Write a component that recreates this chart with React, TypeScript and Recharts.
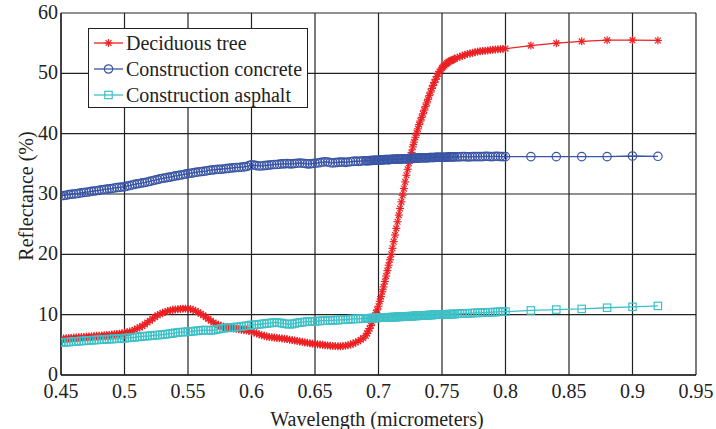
import React from "react";
import { LineChart, Line, XAxis, YAxis, CartesianGrid } from "recharts";

// Wavelength samples (micrometers)
const wavelengths = [
  0.450, 0.452, 0.454, 0.456, 0.458, 0.460, 0.462, 0.464, 0.466, 0.468,
  0.470, 0.472, 0.474, 0.476, 0.478, 0.480, 0.482, 0.484, 0.486, 0.488,
  0.490, 0.492, 0.494, 0.496, 0.498, 0.500, 0.502, 0.504, 0.506, 0.508,
  0.510, 0.512, 0.514, 0.516, 0.518, 0.520, 0.522, 0.524, 0.526, 0.528,
  0.530, 0.532, 0.534, 0.536, 0.538, 0.540, 0.542, 0.544, 0.546, 0.548,
  0.550, 0.552, 0.554, 0.556, 0.558, 0.560, 0.562, 0.564, 0.566, 0.568,
  0.570, 0.572, 0.574, 0.576, 0.578, 0.580, 0.582, 0.584, 0.586, 0.588,
  0.590, 0.592, 0.594, 0.596, 0.598, 0.600, 0.602, 0.604, 0.606, 0.608,
  0.610, 0.612, 0.614, 0.616, 0.618, 0.620, 0.622, 0.624, 0.626, 0.628,
  0.630, 0.632, 0.634, 0.636, 0.638, 0.640, 0.642, 0.644, 0.646, 0.648,
  0.650, 0.652, 0.654, 0.656, 0.658, 0.660, 0.662, 0.664, 0.666, 0.668,
  0.670, 0.672, 0.674, 0.676, 0.678, 0.680, 0.682, 0.684, 0.686, 0.688,
  0.690, 0.691, 0.692, 0.693, 0.694, 0.695, 0.696, 0.697, 0.698, 0.699,
  0.700, 0.701, 0.702, 0.703, 0.704, 0.705, 0.706, 0.707, 0.708, 0.709,
  0.710, 0.711, 0.712, 0.713, 0.714, 0.715, 0.716, 0.717, 0.718, 0.719,
  0.720, 0.721, 0.722, 0.723, 0.724, 0.725, 0.726, 0.727, 0.728, 0.729,
  0.730, 0.731, 0.732, 0.733, 0.734, 0.735, 0.736, 0.737, 0.738, 0.739,
  0.740, 0.741, 0.742, 0.743, 0.744, 0.745, 0.746, 0.747, 0.748, 0.749,
  0.750, 0.751, 0.752, 0.753, 0.754, 0.755, 0.756, 0.757, 0.758, 0.759,
  0.760,
  0.762, 0.764, 0.766, 0.768, 0.770, 0.772, 0.774, 0.776, 0.778, 0.780,
  0.782, 0.784, 0.786, 0.788, 0.790, 0.792, 0.794, 0.796, 0.798, 0.800,
  0.82, 0.84, 0.86, 0.88, 0.90, 0.92,
];

// Reflectance (%) of deciduous tree
const deciduousTree = [
  6.0, 6.05, 6.1, 6.1, 6.15, 6.2, 6.2, 6.25, 6.3, 6.3,
  6.35, 6.4, 6.4, 6.45, 6.5, 6.5, 6.55, 6.6, 6.6, 6.65,
  6.7, 6.75, 6.8, 6.85, 6.9, 7.0, 7.1, 7.2, 7.3, 7.5,
  7.7, 7.9, 8.1, 8.4, 8.7, 9.0, 9.3, 9.6, 9.9, 10.1,
  10.3, 10.45, 10.6, 10.7, 10.8, 10.85, 10.9, 10.95, 11.0, 11.0,
  11.0, 10.9, 10.8, 10.6, 10.4, 10.15, 9.9, 9.6, 9.3, 9.0,
  8.7, 8.5, 8.3, 8.15, 8.0, 7.9, 7.8, 7.75, 7.7, 7.65,
  7.6, 7.5, 7.45, 7.4, 7.3, 7.2, 7.05, 6.9, 6.75, 6.6,
  6.5, 6.4, 6.3, 6.25, 6.2, 6.15, 6.1, 6.05, 6.0, 5.95,
  5.85, 5.8, 5.7, 5.65, 5.55, 5.5, 5.4, 5.35, 5.25, 5.2,
  5.15, 5.1, 5.05, 5.0, 4.95, 4.9, 4.85, 4.8, 4.8, 4.75,
  4.75, 4.8, 4.85, 4.95, 5.05, 5.2, 5.4, 5.6, 5.85, 6.1,
  6.5, 6.9, 7.3, 7.7, 8.2, 8.7, 9.2, 9.7, 10.3, 10.8,
  11.4, 12.2, 13.0, 13.8, 14.6, 15.5, 16.4, 17.3, 18.2, 19.1,
  20.0, 21.0, 22.1, 23.2, 24.3, 25.4, 26.5, 27.6, 28.7, 29.8,
  30.9, 32.0, 33.1, 34.1, 35.1, 36.0, 36.9, 37.8, 38.6, 39.4,
  40.1, 40.8, 41.5, 42.1, 42.7, 43.3, 43.9, 44.5, 45.1, 45.7,
  46.3, 46.9, 47.5, 48.0, 48.5, 49.0, 49.5, 49.9, 50.3, 50.6,
  50.9, 51.1, 51.3, 51.5, 51.7, 51.85, 52.0, 52.1, 52.2, 52.3,
  52.4,
  52.6, 52.75, 52.9, 53.05, 53.2, 53.3, 53.4, 53.5, 53.6, 53.65,
  53.7, 53.75, 53.8, 53.85, 53.9, 53.95, 54.0, 54.0, 54.05, 54.1,
  54.6, 55.0, 55.3, 55.5, 55.5, 55.45,
];

// Reflectance (%) of construction concrete
const constructionConcrete = [
  29.7, 29.75, 29.8, 29.9, 29.95, 30.0, 30.05, 30.1, 30.2, 30.25,
  30.3, 30.35, 30.45, 30.5, 30.55, 30.6, 30.7, 30.75, 30.8, 30.85,
  30.9, 31.0, 31.05, 31.1, 31.15, 31.2, 31.3, 31.4, 31.5, 31.6,
  31.7, 31.75, 31.85, 31.9, 32.0, 32.1, 32.2, 32.3, 32.4, 32.5,
  32.6, 32.65, 32.75, 32.8, 32.9, 33.0, 33.05, 33.15, 33.2, 33.3,
  33.4, 33.45, 33.5, 33.6, 33.65, 33.7, 33.75, 33.8, 33.9, 33.95,
  34.0, 34.05, 34.1, 34.1, 34.15, 34.2, 34.25, 34.3, 34.35, 34.4,
  34.4, 34.45, 34.5, 34.55, 34.7, 34.85, 34.8, 34.7, 34.65, 34.65,
  34.7, 34.75, 34.8, 34.85, 34.9, 34.9, 34.95, 35.0, 35.0, 35.05,
  35.0, 35.0, 35.05, 35.1, 35.15, 35.1, 35.05, 35.0, 35.0, 35.05,
  35.1, 35.15, 35.2, 35.3, 35.35, 35.3, 35.2, 35.15, 35.2, 35.25,
  35.3, 35.3, 35.25, 35.3, 35.35, 35.4, 35.45, 35.4, 35.45, 35.5,
  35.5, 35.5, 35.5, 35.55, 35.55, 35.55, 35.6, 35.6, 35.6, 35.6,
  35.6, 35.6, 35.65, 35.65, 35.65, 35.7, 35.7, 35.7, 35.7, 35.7,
  35.75, 35.75, 35.75, 35.75, 35.8, 35.8, 35.8, 35.8, 35.8, 35.8,
  35.85, 35.85, 35.85, 35.85, 35.9, 35.9, 35.9, 35.9, 35.9, 35.95,
  35.95, 35.95, 35.95, 36.0, 36.0, 36.0, 36.0, 36.0, 36.0, 36.0,
  36.05, 36.05, 36.05, 36.05, 36.05, 36.1, 36.1, 36.1, 36.1, 36.1,
  36.1, 36.1, 36.1, 36.1, 36.1, 36.15, 36.15, 36.15, 36.15, 36.15,
  36.15,
  36.15, 36.15, 36.2, 36.2, 36.15, 36.15, 36.2, 36.2, 36.2, 36.2,
  36.2, 36.25, 36.25, 36.2, 36.2, 36.25, 36.25, 36.2, 36.2, 36.2,
  36.2, 36.2, 36.2, 36.2, 36.3, 36.25,
];

// Reflectance (%) of construction asphalt
const constructionAsphalt = [
  5.4, 5.4, 5.45, 5.45, 5.5, 5.55, 5.55, 5.6, 5.65, 5.65,
  5.7, 5.75, 5.75, 5.8, 5.8, 5.85, 5.85, 5.9, 5.9, 5.95,
  5.95, 6.0, 6.0, 6.05, 6.05, 6.1, 6.15, 6.2, 6.2, 6.25,
  6.3, 6.35, 6.4, 6.45, 6.45, 6.5, 6.55, 6.6, 6.6, 6.65,
  6.7, 6.75, 6.8, 6.85, 6.9, 7.0, 7.05, 7.1, 7.1, 7.15,
  7.2, 7.2, 7.25, 7.3, 7.35, 7.4, 7.45, 7.45, 7.4, 7.4,
  7.45, 7.5, 7.6, 7.7, 7.75, 7.8, 7.85, 7.85, 7.9, 7.95,
  8.0, 8.05, 8.1, 8.15, 8.2, 8.3, 8.3, 8.35, 8.4, 8.45,
  8.5, 8.55, 8.6, 8.65, 8.7, 8.7, 8.65, 8.6, 8.5, 8.45,
  8.4, 8.45, 8.55, 8.65, 8.7, 8.75, 8.8, 8.85, 8.85, 8.9,
  8.9, 8.95, 8.95, 9.0, 9.0, 9.0, 9.05, 9.05, 9.1, 9.1,
  9.15, 9.15, 9.2, 9.2, 9.25, 9.3, 9.3, 9.3, 9.35, 9.35,
  9.4, 9.4, 9.4, 9.4, 9.4, 9.45, 9.45, 9.45, 9.45, 9.45,
  9.5, 9.5, 9.5, 9.5, 9.5, 9.55, 9.55, 9.55, 9.55, 9.55,
  9.6, 9.6, 9.6, 9.6, 9.6, 9.65, 9.65, 9.65, 9.65, 9.65,
  9.7, 9.7, 9.7, 9.7, 9.75, 9.75, 9.75, 9.75, 9.8, 9.8,
  9.8, 9.8, 9.85, 9.85, 9.85, 9.85, 9.9, 9.9, 9.9, 9.9,
  9.95, 9.95, 9.95, 9.95, 10.0, 10.0, 10.0, 10.0, 10.0, 10.0,
  10.0, 10.05, 10.05, 10.05, 10.05, 10.05, 10.1, 10.1, 10.1, 10.1,
  10.1,
  10.15, 10.15, 10.2, 10.2, 10.2, 10.25, 10.25, 10.3, 10.3, 10.3,
  10.35, 10.35, 10.4, 10.4, 10.4, 10.45, 10.45, 10.5, 10.5, 10.5,
  10.7, 10.85, 10.95, 11.15, 11.3, 11.45,
];

const xTicks = [0.45, 0.5, 0.55, 0.6, 0.65, 0.7, 0.75, 0.8, 0.85, 0.9, 0.95];
const yTicks = [0, 10, 20, 30, 40, 50, 60];

const seriesNames = ["Deciduous tree", "Construction concrete", "Construction asphalt"];
const xLabel = "Wavelength (micrometers)";
const yLabel = "Reflectance (%)";

const RED = "#ed2024";
const BLUE = "#3a55a5";
const CYAN = "#3ec0c6";
const INK = "#222";

const data = wavelengths.map((wl, i) => ({
  wl,
  tree: deciduousTree[i],
  concrete: constructionConcrete[i],
  asphalt: constructionAsphalt[i],
}));

const FONT = "Liberation Serif, Tinos, DejaVu Serif, serif";

function StarMark({ cx, cy, color }: { cx: number; cy: number; color: string }) {
  const r = 4;
  const d = 2.9;
  return (
    <g stroke={color} strokeWidth={1.2} fill="none">
      <line x1={cx - r} y1={cy} x2={cx + r} y2={cy} />
      <line x1={cx} y1={cy - r} x2={cx} y2={cy + r} />
      <line x1={cx - d} y1={cy - d} x2={cx + d} y2={cy + d} />
      <line x1={cx - d} y1={cy + d} x2={cx + d} y2={cy - d} />
    </g>
  );
}

function CircleMark({ cx, cy, color }: { cx: number; cy: number; color: string }) {
  return <circle cx={cx} cy={cy} r={4.2} stroke={color} strokeWidth={1.2} fill="none" />;
}

function SquareMark({ cx, cy, color }: { cx: number; cy: number; color: string }) {
  return (
    <rect x={cx - 3.7} y={cy - 3.7} width={7.4} height={7.4} stroke={color} strokeWidth={1.2} fill="none" />
  );
}

const markers = [
  (p: any) => <StarMark cx={p.cx} cy={p.cy} color={RED} />,
  (p: any) => <CircleMark cx={p.cx} cy={p.cy} color={BLUE} />,
  (p: any) => <SquareMark cx={p.cx} cy={p.cy} color={CYAN} />,
];
const colors = [RED, BLUE, CYAN];

function LegendBox() {
  return (
    <div
      style={{
        position: "absolute",
        left: 88,
        top: 28,
        width: 220,
        height: 80,
        border: `1.3px solid ${INK}`,
        background: "#fff",
        padding: "1px 0 0 4px",
        fontFamily: FONT,
        fontSize: 20,
        lineHeight: "26px",
        color: INK,
        boxSizing: "border-box",
      }}
    >
      {seriesNames.map((name, i) => (
        <div key={name} style={{ display: "flex", alignItems: "center", whiteSpace: "nowrap", height: 26 }}>
          <svg width={31} height={14} style={{ marginRight: 2, flex: "none" }}>
            <line x1={1} y1={7} x2={30} y2={7} stroke={colors[i]} strokeWidth={1.3} />
            {markers[i]({ cx: 15.5, cy: 7 })}
          </svg>
          <span style={{ fontFamily: FONT }}>{name}</span>
        </div>
      ))}
    </div>
  );
}

function makeDot(idx: number) {
  return (props: any) => {
    const { cx, cy, index } = props;
    if (cx == null || cy == null) return <g key={`d${idx}-${index}`} />;
    return <g key={`d${idx}-${index}`}>{markers[idx]({ cx, cy })}</g>;
  };
}

function XTick(props: any) {
  const { x, y, payload } = props;
  return (
    <text x={x} y={y + 15} textAnchor="middle" fill={INK} fontSize={20} style={{ fontFamily: FONT }}>
      {String(payload.value)}
    </text>
  );
}

function YTick(props: any) {
  const { x, y, payload } = props;
  return (
    <text x={x} y={y + 6} textAnchor="end" fill={INK} fontSize={20} style={{ fontFamily: FONT }}>
      {String(payload.value)}
    </text>
  );
}

export default function App() {
  return (
    <div
      style={{
        position: "absolute",
        left: 0,
        top: 0,
        width: 716,
        height: 429,
        background: "#fff",
        fontFamily: FONT,
        overflow: "hidden",
      }}
    >
      <LineChart
        width={716}
        height={429}
        data={data}
        margin={{ top: 13, right: 20, left: 0, bottom: 0 }}
        style={{ fontFamily: FONT }}
      >
        <CartesianGrid stroke={INK} strokeWidth={1.2} />
        <XAxis
          dataKey="wl"
          type="number"
          domain={[0.45, 0.95]}
          ticks={xTicks}
          interval={0}
          allowDataOverflow
          height={54}
          tickSize={0}
          tickMargin={8}
          axisLine={{ stroke: INK, strokeWidth: 1.3 }}
          tick={<XTick />}
          label={{
            content: () => (
              <text x={377} y={426} textAnchor="middle" fill={INK} fontSize={20} style={{ fontFamily: FONT }}>
                {xLabel}
              </text>
            ),
          }}
        />
        <YAxis
          type="number"
          domain={[0, 60]}
          ticks={yTicks}
          interval={0}
          width={61}
          tickSize={0}
          tickMargin={3}
          axisLine={{ stroke: INK, strokeWidth: 1.3 }}
          tick={<YTick />}
          label={{
            content: () => (
              <text
                x={33}
                y={196}
                transform="rotate(-90 33 196)"
                textAnchor="middle"
                fill={INK}
                fontSize={20}
                style={{ fontFamily: FONT }}
              >
                {yLabel}
              </text>
            ),
          }}
        />
        <Line
          dataKey="tree"
          name={seriesNames[0]}
          stroke={RED}
          strokeWidth={1.3}
          dot={makeDot(0)}
          activeDot={false}
          isAnimationActive={false}
        />
        <Line
          dataKey="concrete"
          name={seriesNames[1]}
          stroke={BLUE}
          strokeWidth={1.3}
          dot={makeDot(1)}
          activeDot={false}
          isAnimationActive={false}
        />
        <Line
          dataKey="asphalt"
          name={seriesNames[2]}
          stroke={CYAN}
          strokeWidth={1.3}
          dot={makeDot(2)}
          activeDot={false}
          isAnimationActive={false}
        />
      </LineChart>
      <LegendBox />
    </div>
  );
}
